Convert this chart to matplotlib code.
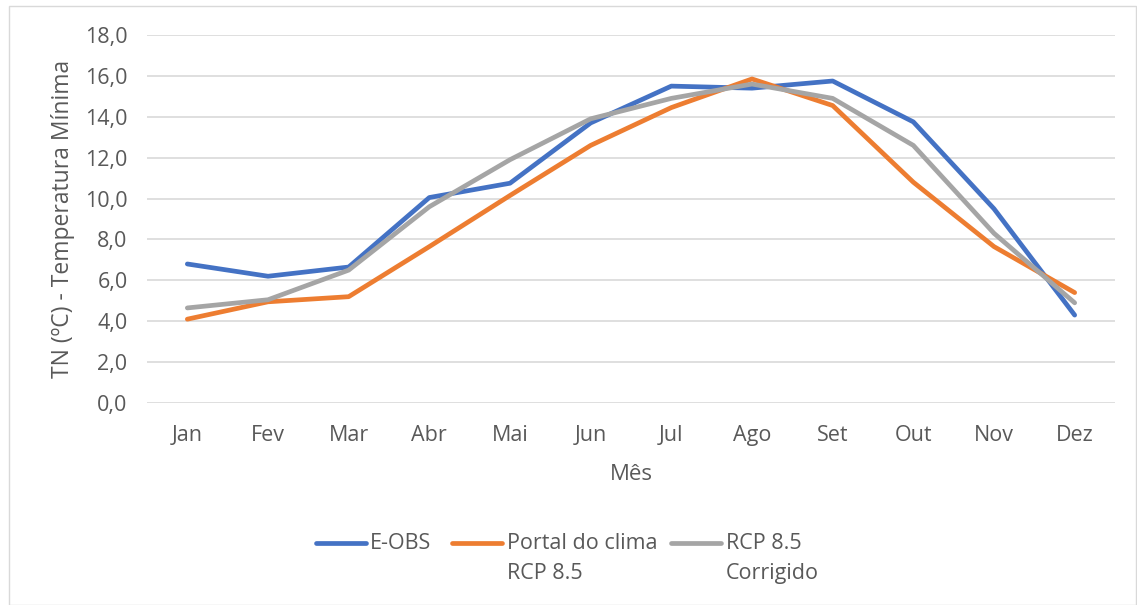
import matplotlib.pyplot as plt
from matplotlib.lines import Line2D
from matplotlib.patches import Rectangle
from matplotlib.ticker import FuncFormatter

meses = ['Jan', 'Fev', 'Mar', 'Abr', 'Mai', 'Jun', 'Jul', 'Ago', 'Set', 'Out', 'Nov', 'Dez']
e_obs = [6.8, 6.2, 6.65, 10.05, 10.75, 13.7, 15.5, 15.4, 15.75, 13.75, 9.5, 4.3]
portal = [4.1, 4.95, 5.2, 7.65, 10.15, 12.6, 14.45, 15.85, 14.55, 10.8, 7.65, 5.4]
corrigido = [4.65, 5.05, 6.5, 9.6, 11.9, 13.9, 14.9, 15.6, 14.9, 12.6, 8.3, 4.9]

series = [
    (e_obs, 'E-OBS', '#4472C4'),
    (portal, 'Portal do clima\nRCP 8.5', '#ED7D31'),
    (corrigido, 'RCP 8.5\nCorrigido', '#A5A5A5'),
]

plt.rcParams['font.family'] = ['Open Sans', 'DejaVu Sans']
txt = '#595959'

W, H = 1137, 605
fig = plt.figure(figsize=(W / 100, H / 100), dpi=100)
ax = fig.add_axes([147 / W, 1 - 403 / H, (1115 - 147) / W, (403 - 35) / H])

x = list(range(len(meses)))
for vals, label, color in series:
    ax.plot(x, vals, color=color, linewidth=3.4, solid_capstyle='round', solid_joinstyle='round', zorder=3)

ax.set_xlim(-0.5, len(meses) - 0.5)
ax.set_ylim(0, 18)
ax.set_yticks([0, 2, 4, 6, 8, 10, 12, 14, 16, 18])
ax.yaxis.set_major_formatter(FuncFormatter(lambda v, p: f'{v:.1f}'.replace('.', ',')))
ax.set_xticks(x)
ax.set_xticklabels(meses)

ax.set_axisbelow(True)
ax.yaxis.grid(True, color='#D9D9D9', linewidth=1.2)
ax.xaxis.grid(False)
for s in ax.spines.values():
    s.set_visible(False)
ax.tick_params(axis='both', length=0, colors=txt, labelsize=15.5)
ax.tick_params(axis='y', pad=14)
ax.tick_params(axis='x', pad=16)

ax.set_ylabel('TN (ºC) - Temperatura Mínima', fontsize=16.5, color=txt, labelpad=7)
ax.set_xlabel('Mês', fontsize=16, color=txt, labelpad=12.5)

# legend drawn by hand so the handle sits on the first text line
leg_x = [(316, 366, 370), (452, 502, 507), (671, 721, 726)]
for (vals, label, color), (x0, x1, tx) in zip(series, leg_x):
    y = 1 - 543 / H
    fig.add_artist(Line2D([x0 / W, x1 / W], [y, y], color=color, linewidth=3.4,
                          solid_capstyle='round', transform=fig.transFigure))
    fig.text(tx / W, 1 - 533 / H, label, fontsize=15.5, color=txt, ha='left', va='top',
             linespacing=1.56)

fig.add_artist(Rectangle((9 / W, 0), (W - 10) / W, 1 - 6 / H, transform=fig.transFigure,
                         fill=False, edgecolor='#D9D9D9', linewidth=1))

fig.savefig('out.png', dpi=100, facecolor='white')
